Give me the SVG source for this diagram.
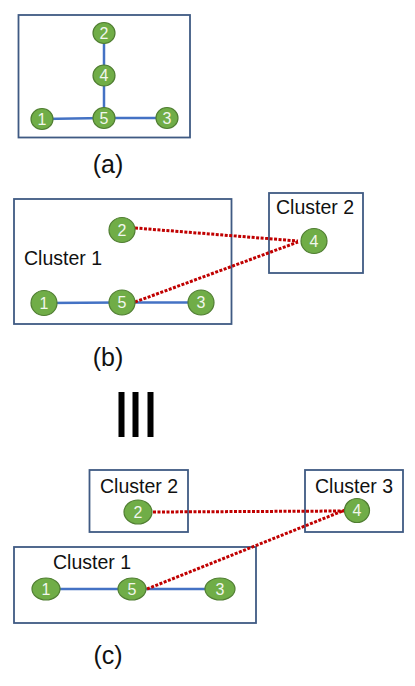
<svg xmlns="http://www.w3.org/2000/svg" width="415" height="686" viewBox="0 0 415 686">
<style>
.box{fill:none;stroke:#3F5A83;stroke-width:1.8}
.n ellipse{fill:#70AD47;stroke:#507E32;stroke-width:1.2}
.n text{fill:#F2F7EE;font-family:"Liberation Sans","DejaVu Sans",sans-serif;font-size:16px;text-anchor:middle}
.lbl{fill:#111;font-family:"Liberation Sans","DejaVu Sans",sans-serif;font-size:19.5px}
.cap{fill:#111;font-family:"Liberation Sans","DejaVu Sans",sans-serif;font-size:25px;text-anchor:middle}
.e{stroke:#4472C4;stroke-width:2.5;fill:none}
.d{stroke:#C00000;stroke-width:3;stroke-dasharray:3 1.5;fill:none}
</style>
<rect width="415" height="686" fill="#fff"/>

<!-- Panel (a) -->
<g id="panel-a">
<rect class="box" x="18.5" y="15" width="171.5" height="122.5"/>
<text class="cap" x="108" y="173">(a)</text>
</g>
<g id="connectors-a">
<line class="e" x1="104" y1="33" x2="104" y2="118"/>
<line class="e" x1="42" y1="119" x2="104" y2="118"/>
<line class="e" x1="104" y1="118" x2="167" y2="118"/>
</g>
<g id="a-n2" class="n"><ellipse cx="104" cy="33" rx="11" ry="10.5"/><text x="104" y="38.8">2</text></g>
<g id="a-n4" class="n"><ellipse cx="104" cy="75.5" rx="11" ry="10.5"/><text x="104" y="81.3">4</text></g>
<g id="a-n5" class="n"><ellipse cx="104" cy="118" rx="11" ry="10.5"/><text x="104" y="123.8">5</text></g>
<g id="a-n1" class="n"><ellipse cx="42" cy="119" rx="11" ry="10.5"/><text x="42" y="124.8">1</text></g>
<g id="a-n3" class="n"><ellipse cx="167" cy="118" rx="11" ry="10.5"/><text x="167" y="123.8">3</text></g>

<!-- Panel (b) -->
<g id="b-cluster1">
<rect class="box" x="14" y="199" width="217.5" height="125"/>
<text class="lbl" x="24" y="265">Cluster 1</text>
</g>
<g id="b-cluster2">
<rect class="box" x="269" y="193" width="94" height="80"/>
<text class="lbl" x="276" y="214">Cluster 2</text>
</g>
<text class="cap" x="108" y="366">(b)</text>
<g id="connectors-b">
<line class="e" x1="44" y1="303" x2="122" y2="302.5"/>
<line class="e" x1="122" y1="302.5" x2="201" y2="302.5"/>
<line class="d" x1="135" y1="228" x2="298" y2="241"/>
<line class="d" x1="135" y1="302" x2="298" y2="242"/>
</g>
<g id="b-n2" class="n"><ellipse cx="122" cy="230" rx="13" ry="12.5"/><text x="122" y="235.8">2</text></g>
<g id="b-n4" class="n"><ellipse cx="314" cy="241" rx="13" ry="12.5"/><text x="314" y="246.8">4</text></g>
<g id="b-n1" class="n"><ellipse cx="44" cy="303" rx="13" ry="12.5"/><text x="44" y="308.8">1</text></g>
<g id="b-n5" class="n"><ellipse cx="122" cy="302.5" rx="13" ry="12.5"/><text x="122" y="308.3">5</text></g>
<g id="b-n3" class="n"><ellipse cx="201" cy="302.5" rx="13" ry="12.5"/><text x="201" y="308.3">3</text></g>

<!-- Equivalence sign -->
<g id="equiv" fill="#000">
<rect x="118.5" y="392" width="6" height="45"/>
<rect x="132.5" y="392" width="6" height="45"/>
<rect x="147.5" y="392" width="6" height="45"/>
</g>

<!-- Panel (c) -->
<g id="c-cluster2">
<rect class="box" x="89.5" y="470" width="98.5" height="62"/>
<text class="lbl" x="100" y="493">Cluster 2</text>
</g>
<g id="c-cluster3">
<rect class="box" x="305" y="470" width="98" height="62"/>
<text class="lbl" x="315" y="493">Cluster 3</text>
</g>
<g id="c-cluster1">
<rect class="box" x="14" y="547" width="242" height="76"/>
<text class="lbl" x="53" y="569">Cluster 1</text>
</g>
<text class="cap" x="108" y="664">(c)</text>
<g id="connectors-c">
<line class="e" x1="46" y1="589" x2="132" y2="589"/>
<line class="e" x1="132" y1="589" x2="220" y2="589"/>
<line class="d" x1="153" y1="512" x2="345" y2="511"/>
<line class="d" x1="147" y1="589" x2="345" y2="510"/>
</g>
<g id="c-n2" class="n"><ellipse cx="138" cy="512" rx="14" ry="12"/><text x="138" y="517.8">2</text></g>
<g id="c-n4" class="n"><ellipse cx="357" cy="510.5" rx="12.5" ry="12"/><text x="357" y="516.3">4</text></g>
<g id="c-n1" class="n"><ellipse cx="46" cy="589" rx="14" ry="11"/><text x="46" y="594.8">1</text></g>
<g id="c-n5" class="n"><ellipse cx="132" cy="589" rx="14" ry="11"/><text x="132" y="594.8">5</text></g>
<g id="c-n3" class="n"><ellipse cx="220" cy="589" rx="15" ry="11"/><text x="220" y="594.8">3</text></g>
</svg>
